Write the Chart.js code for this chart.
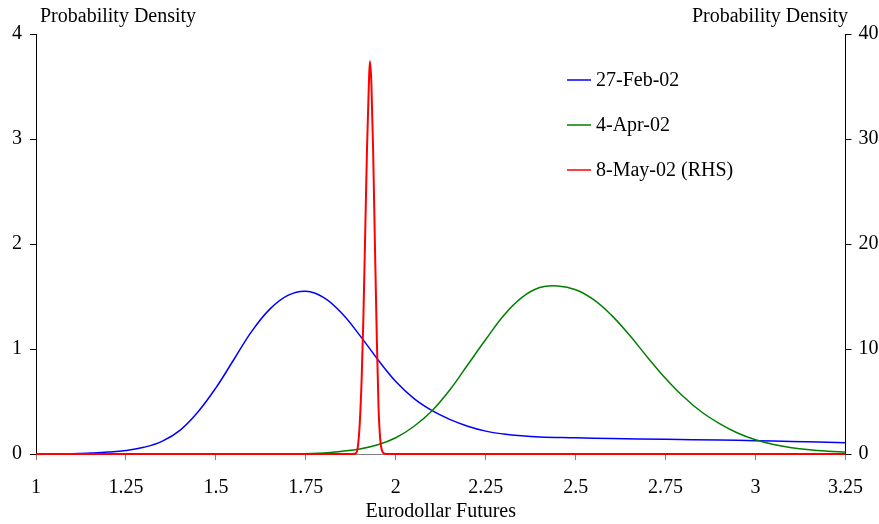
<!DOCTYPE html>
<html>
<head>
<meta charset="utf-8">
<script src="https://cdn.jsdelivr.net/npm/chart.js@4.4.1/dist/chart.umd.min.js"></script>
<style>
  html, body { margin: 0; padding: 0; background: #fff; }
  #wrap { width: 879px; height: 524px; }
</style>
</head>
<body>
<div id="wrap"><canvas id="densityChart" width="879" height="524"></canvas></div>
<script>
// values
const febX = [1.0, 1.1, 1.15, 1.2, 1.25, 1.3, 1.35, 1.4, 1.45, 1.5, 1.55, 1.6, 1.65, 1.7, 1.75, 1.8, 1.85, 1.9, 1.95, 2.0, 2.05, 2.1, 2.15, 2.2, 2.25, 2.3, 2.35, 2.4, 2.5, 2.6, 2.75, 2.9, 3.0, 3.1, 3.25];
const febY = [0, 0.003, 0.009, 0.018, 0.034, 0.064, 0.12, 0.225, 0.40, 0.63, 0.90, 1.17, 1.38, 1.51, 1.55, 1.49, 1.34, 1.13, 0.90, 0.69, 0.53, 0.415, 0.33, 0.265, 0.218, 0.19, 0.173, 0.163, 0.155, 0.147, 0.14, 0.133, 0.127, 0.12, 0.108];

const aprX = [1.0, 1.7, 1.8, 1.85, 1.9, 1.95, 2.0, 2.05, 2.1, 2.15, 2.2, 2.25, 2.3, 2.35, 2.4, 2.45, 2.5, 2.55, 2.6, 2.65, 2.7, 2.75, 2.8, 2.85, 2.9, 2.95, 3.0, 3.05, 3.1, 3.15, 3.2, 3.25];
const aprY = [0, 0, 0.01, 0.026, 0.048, 0.088, 0.155, 0.262, 0.41, 0.61, 0.85, 1.09, 1.32, 1.49, 1.585, 1.60, 1.565, 1.47, 1.32, 1.13, 0.92, 0.72, 0.545, 0.40, 0.29, 0.20, 0.135, 0.09, 0.06, 0.04, 0.027, 0.018];

const mayX = [1.0, 1.88, 1.89, 1.895, 1.9, 1.905, 1.91, 1.915, 1.92, 1.925, 1.928, 1.932, 1.937, 1.942, 1.947, 1.952, 1.957, 1.962, 1.967, 1.975, 3.25];
const mayY = [0, 0, 0.1, 0.8, 3, 7, 13, 21, 29, 35, 37.4, 35.5, 29, 20, 11.5, 4.5, 1.3, 0.3, 0.05, 0, 0];

const seriesNames = ['27-Feb-02', '4-Apr-02', '8-May-02 (RHS)'];
const seriesColors = ['#0000ff', '#008000', '#ff0000'];
const xTicks = [1, 1.25, 1.5, 1.75, 2, 2.25, 2.5, 2.75, 3, 3.25];
const leftTicks = [0, 1, 2, 3, 4];
const rightTicks = [0, 10, 20, 30, 40];
const xTitle = 'Eurodollar Futures';
const yTitle = 'Probability Density';

function toPoints(xs, ys) {
	return xs.map((x, i) => ({ x: x, y: ys[i] }));
}

const fontFamily = '"Liberation Serif", "Times New Roman", serif';

// axis titles on top and the legend inside the plot
const overlay = {
	id: 'overlay',
	afterDraw(chart) {
		const ctx = chart.ctx;
		ctx.save();
		ctx.font = '20px ' + fontFamily;
		ctx.fillStyle = '#000';
		ctx.textBaseline = 'middle';
		ctx.textAlign = 'left';
		ctx.fillText(yTitle, 40, 17);
		ctx.textAlign = 'right';
		ctx.fillText(yTitle, 848, 17);

		ctx.textAlign = 'left';
		chart.data.datasets.forEach((ds, i) => {
			let y = 80 + i * 45;
			ctx.strokeStyle = ds.borderColor;
			ctx.lineWidth = 1.5;
			ctx.beginPath();
			ctx.moveTo(567, y);
			ctx.lineTo(591, y);
			ctx.stroke();
			ctx.fillText(ds.label, 596, y + 1);
		});
		ctx.restore();
	}
};

const target = document.getElementById('densityChart');
new Chart(target, {
	type: 'line',
	data: {
		datasets: [{
			label: seriesNames[0],
			data: toPoints(febX, febY),
			borderColor: seriesColors[0],
			borderWidth: 1.5,
			tension: 0.4,
			yAxisID: 'y',
			order: 2
		}, {
			label: seriesNames[1],
			data: toPoints(aprX, aprY),
			borderColor: seriesColors[1],
			borderWidth: 1.5,
			tension: 0.4,
			yAxisID: 'y',
			order: 1
		}, {
			label: seriesNames[2],
			data: toPoints(mayX, mayY),
			borderColor: seriesColors[2],
			borderWidth: 2,
			cubicInterpolationMode: 'monotone',
			yAxisID: 'y2',
			order: 0
		}]
	},
	options: {
		responsive: false,
		animation: false,
		devicePixelRatio: 1,
		layout: { padding: { top: 34, left: 0, right: 0, bottom: 0 } },
		elements: {
			point: { radius: 0 },
			line: { fill: false }
		},
		datasets: { line: { clip: 4 } },
		plugins: {
			legend: { display: false },
			tooltip: { enabled: false }
		},
		scales: {
			x: {
				type: 'linear',
				min: xTicks[0],
				max: xTicks[xTicks.length - 1],
				afterBuildTicks: scale => { scale.ticks = xTicks.map(v => ({ value: v })); },
				afterFit: scale => { scale.height = 70; },
				grid: { drawOnChartArea: false, drawTicks: true, tickLength: 6, color: '#808080' },
				border: { color: '#808080', width: 1 },
				ticks: {
					padding: 16,
					color: '#000',
					font: { family: fontFamily, size: 20 },
					maxRotation: 0,
					callback: v => String(v)
				},
				title: {
					display: true,
					text: xTitle,
					color: '#000',
					font: { family: fontFamily, size: 20 },
					padding: { top: 0, bottom: 0 }
				}
			},
			y: {
				position: 'left',
				min: leftTicks[0],
				max: leftTicks[leftTicks.length - 1],
				afterBuildTicks: scale => { scale.ticks = leftTicks.map(v => ({ value: v })); },
				afterFit: scale => { scale.width = 36; },
				grid: { drawOnChartArea: false, drawTicks: true, tickLength: 6, color: '#000' },
				border: { color: '#000', width: 1 },
				ticks: {
					padding: 8,
					color: '#000',
					font: { family: fontFamily, size: 20 },
					callback: v => String(v)
				}
			},
			y2: {
				position: 'right',
				min: rightTicks[0],
				max: rightTicks[rightTicks.length - 1],
				afterBuildTicks: scale => { scale.ticks = rightTicks.map(v => ({ value: v })); },
				afterFit: scale => { scale.width = 33; },
				grid: { drawOnChartArea: false, drawTicks: true, tickLength: 6, color: '#000' },
				border: { color: '#000', width: 1 },
				ticks: {
					padding: 7,
					color: '#000',
					font: { family: fontFamily, size: 20 },
					callback: v => String(v)
				}
			}
		}
	},
	plugins: [overlay]
});
</script>
</body>
</html>
